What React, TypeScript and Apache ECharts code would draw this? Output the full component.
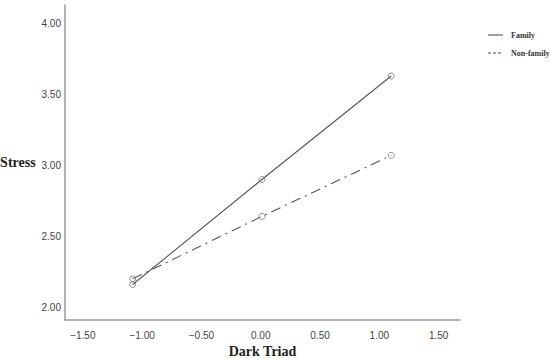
import React, { useEffect, useRef } from "react";
import * as echarts from "echarts";

const seriesNames = ["Family", "Non-family"];
const xValues = [-1.08, 0.01, 1.1];
const familyValues = [2.16, 2.9, 3.63];
const nonFamilyValues = [2.2, 2.64, 3.07];
const xTicks = [-1.5, -1.0, -0.5, 0.0, 0.5, 1.0, 1.5];
const yTicks = [2.0, 2.5, 3.0, 3.5, 4.0];

const fmt = (v: number) => (v < 0 ? "\u2212" + Math.abs(v).toFixed(2) : v.toFixed(2));

export default function App() {
  const ref = useRef<HTMLDivElement>(null);
  useEffect(() => {
    if (!ref.current) return;
    const chart = echarts.init(ref.current, null, { renderer: "svg" });
    const lineColor = "#555";
    const mk = (vals: number[], dashed: boolean, name: string) => ({
      type: "line",
      name,
      data: xValues.map((x, i) => [x, vals[i]]),
      symbol: "circle",
      symbolSize: 6,
      lineStyle: { color: lineColor, width: 1.1, type: dashed ? [10, 5, 2, 5] : "solid" },
      itemStyle: { color: "rgba(255,255,255,0)", borderColor: "#808080", borderWidth: 0.9 },
      z: dashed ? 2 : 3,
    });
    chart.setOption({
      animation: false,
      backgroundColor: "#fff",
      grid: { left: 65, right: 90, top: 5, bottom: 39, containLabel: false, outerBoundsMode: "none" },
      xAxis: {
        type: "value",
        min: -1.65,
        max: 1.68,
        name: "Dark Triad",
        nameLocation: "middle",
        nameGap: 24,
        nameTextStyle: { fontFamily: "Liberation Serif", fontWeight: "bold", fontSize: 14, color: "#222" },
        axisLine: { show: true, onZero: false, lineStyle: { color: "#999", width: 1.5 } },
        axisTick: { show: false },
        splitLine: { show: false },
        axisLabel: {
          customValues: xTicks,
          formatter: fmt,
          fontFamily: "Liberation Sans",
          fontSize: 10,
          color: "#444",
          margin: 10,
        },
      },
      yAxis: {
        type: "value",
        min: 1.91,
        max: 4.13,
        name: "Stress",
        nameLocation: "middle",
        nameRotate: 0,
        nameGap: 22,
        nameTextStyle: { fontFamily: "Liberation Serif", fontWeight: "bold", fontSize: 14, color: "#222", align: "right", padding: [4, 0, 0, 0] },
        axisLine: { show: true, onZero: false, lineStyle: { color: "#999", width: 1.5 } },
        axisTick: { show: false },
        splitLine: { show: false },
        axisLabel: {
          customValues: yTicks,
          formatter: fmt,
          fontFamily: "Liberation Sans",
          fontSize: 10,
          color: "#444",
          margin: 4,
        },
      },
      graphic: [
        { type: "line", shape: { x1: 488, y1: 35, x2: 503, y2: 35 }, style: { stroke: "#444", lineWidth: 1 } },
        { type: "text", x: 511, y: 35, style: { text: seriesNames[0], fontFamily: "Liberation Serif", fontWeight: "bold", fontSize: 8, fill: "#333", verticalAlign: "middle" } },
        { type: "line", shape: { x1: 488, y1: 53, x2: 503, y2: 53 }, style: { stroke: "#444", lineWidth: 1, lineDash: [3, 2] } },
        { type: "text", x: 511, y: 53, style: { text: seriesNames[1], fontFamily: "Liberation Serif", fontWeight: "bold", fontSize: 8, fill: "#333", verticalAlign: "middle" } },
      ],
      series: [mk(familyValues, false, seriesNames[0]), mk(nonFamilyValues, true, seriesNames[1])],
    });
    return () => chart.dispose();
  }, []);
  return <div ref={ref} style={{ width: 550, height: 359, position: "absolute", left: 0, top: 0 }} />;
}
